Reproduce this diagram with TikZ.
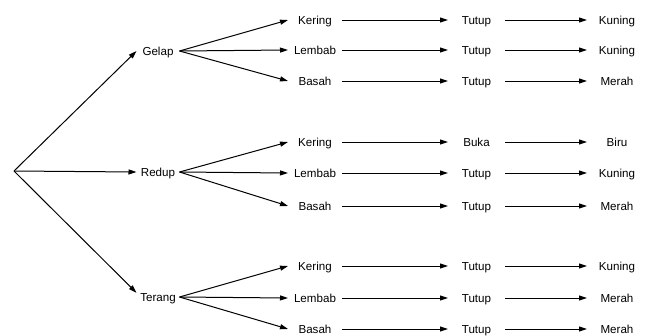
\documentclass[tikz,border=0pt]{standalone}
\usepackage{fontspec}
\setmainfont{Liberation Sans}
\usetikzlibrary{arrows.meta}
\tikzset{
  lbl/.style={inner sep=0pt, outer sep=0pt, text height=8.4pt, text depth=0pt, font=\fontsize{11.6}{14}\selectfont},
  lvlone/.style={lbl, minimum width=43pt},
  coltwo/.style={lbl, minimum width=54pt},
  colthree/.style={lbl, minimum width=57pt},
  colfour/.style={lbl, minimum width=60pt},
  arr/.style={line width=1pt, -{Triangle[length=8pt,width=5pt]}}
}
\begin{document}
\begin{tikzpicture}[x=1pt,y=-1pt]
\useasboundingbox (0,0) rectangle (647,335);
\coordinate (root) at (14,171);
% level one
\node[lvlone] (g) at (158,51) {Gelap};
\node[lvlone] (r) at (158,172) {Redup};
\node[lvlone] (t) at (158,297) {Terang};
% group Gelap
\node[coltwo] (g1) at (315,20) {Kering};
\node[coltwo] (g2) at (315,50) {Lembab};
\node[coltwo] (g3) at (315,81) {Basah};
\node[colthree] (g1b) at (476.5,20) {Tutup};
\node[colthree] (g2b) at (476.5,50) {Tutup};
\node[colthree] (g3b) at (476.5,81) {Tutup};
\node[colfour] (g1c) at (617,20) {Kuning};
\node[colfour] (g2c) at (617,50) {Kuning};
\node[colfour] (g3c) at (617,81) {Merah};
% group Redup
\node[coltwo] (r1) at (315,142) {Kering};
\node[coltwo] (r2) at (315,173) {Lembab};
\node[coltwo] (r3) at (315,206) {Basah};
\node[colthree] (r1b) at (476.5,142) {Buka};
\node[colthree] (r2b) at (476.5,173) {Tutup};
\node[colthree] (r3b) at (476.5,206) {Tutup};
\node[colfour] (r1c) at (617,142) {Biru};
\node[colfour] (r2c) at (617,173) {Kuning};
\node[colfour] (r3c) at (617,206) {Merah};
% group Terang
\node[coltwo] (t1) at (315,266) {Kering};
\node[coltwo] (t2) at (315,298) {Lembab};
\node[coltwo] (t3) at (315,329) {Basah};
\node[colthree] (t1b) at (476.5,266) {Tutup};
\node[colthree] (t2b) at (476.5,298) {Tutup};
\node[colthree] (t3b) at (476.5,329) {Tutup};
\node[colfour] (t1c) at (617,266) {Kuning};
\node[colfour] (t2c) at (617,298) {Merah};
\node[colfour] (t3c) at (617,329) {Merah};
% root connectors
\draw[arr] (root) -- (g.west);
\draw[arr] (root) -- (r.west);
\draw[arr] (root) -- (t.north west);
% branches
\foreach \p in {g,r,t}{
  \foreach \i in {1,2,3}{
    \draw[arr] (\p.east) -- (\p\i.west);
    \draw[arr] (\p\i.east) -- (\p\i b.west);
    \draw[arr] (\p\i b.east) -- (\p\i c.west);
  }
}
\end{tikzpicture}
\end{document}
